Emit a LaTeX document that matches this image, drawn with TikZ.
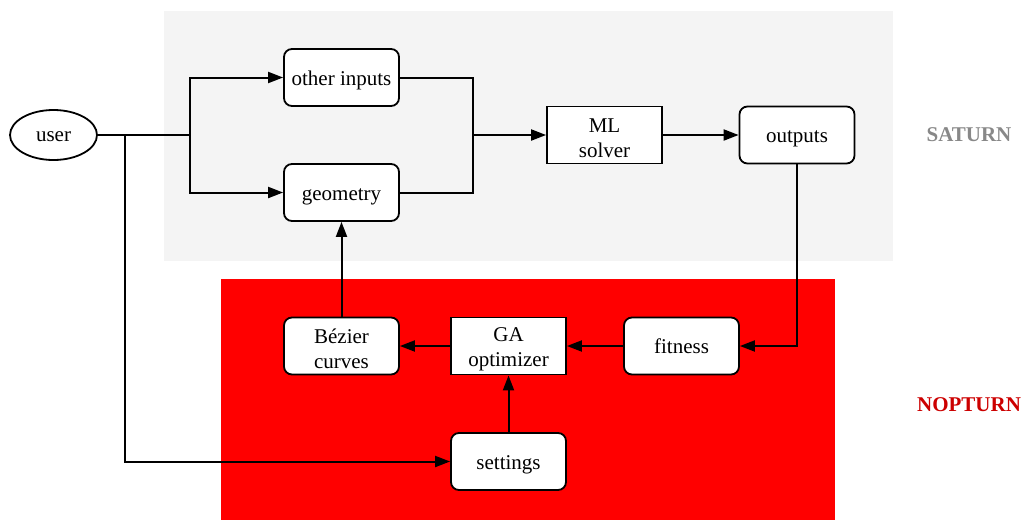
\documentclass[tikz,border=0pt]{standalone}
\usepackage{fontspec}
\setmainfont{Liberation Serif}
\usetikzlibrary{arrows.meta,shapes.geometric}
\definecolor{panelgray}{HTML}{F4F4F4}
\definecolor{labelgray}{HTML}{888888}
\definecolor{labelred}{HTML}{CC0000}
\begin{document}
\begin{tikzpicture}[x=1pt,y=-1pt,
  every node/.style={font=\fontsize{21}{25}\selectfont},
  onel/.style={text height=15pt, text depth=0pt},
  rbox/.style={draw, line width=1.8pt, fill=white, rounded corners=8pt,
    minimum width=115pt, minimum height=57pt, inner sep=0pt, align=center},
  sbox/.style={draw, line width=1.8pt, fill=white,
    minimum width=115pt, minimum height=57pt, inner sep=0pt, align=center},
  link/.style={line width=2pt, -{Triangle[length=15pt,width=11pt]}},
  plain/.style={line width=2pt},
  tag/.style={font=\fontsize{21}{25}\selectfont\bfseries}]
\useasboundingbox (0,0) rectangle (1022,520);
% cluster backgrounds
\fill[panelgray] (164,11) rectangle (893,261);
\fill[red] (221,279) rectangle (835,520);
% nodes
\node[ellipse, draw, line width=1.8pt, fill=white, minimum width=87pt, minimum height=50pt, inner sep=0pt, text height=13pt, text depth=0pt] (user) at (53.5,135) {user};
\node[rbox, onel] (oi) at (341.5,77.5) {other inputs};
\node[rbox, onel] (geo) at (341.5,192.5) {geometry};
\node[sbox] (ml) at (604.5,135) {\rule{0pt}{20pt}ML\\solver};
\node[rbox, onel] (out) at (797,135) {outputs};
\node[rbox] (bez) at (341.5,346) {\rule{0pt}{20pt}Bézier\\curves};
\node[sbox] (ga) at (508.5,346) {\rule{0pt}{20pt}GA\\optimizer};
\node[rbox, onel] (fit) at (681.5,346) {fitness};
\node[rbox, onel] (set) at (508.5,461.5) {settings};
% junctions
\coordinate (jin) at (190,135);
\coordinate (jml) at (473,135);
\coordinate (jset) at (125,135);
% connectors
\draw[link] (user.east) -- (jin) |- (oi.west);
\draw[link] (user.east) -- (jin) |- (geo.west);
\draw[plain] (oi.east) -| (jml);
\draw[link] (geo.east) -| (jml) -- (ml.west);
\draw[link] (ml.east) -- (out.west);
\draw[link] (out.south) |- (fit.east);
\draw[link] (fit.west) -- (ga.east);
\draw[link] (ga.west) -- (bez.east);
\draw[link] (bez.north) -- (geo.south);
\draw[link] (set.north) -- (ga.south);
\draw[link] (user.east) -- (jset) |- (set.west);
% cluster labels
\node[tag, text=labelgray] (saturn) at (969,135) {SATURN};
\node[tag, text=labelred] (nopturn) at (969,405) {NOPTURN};
\end{tikzpicture}
\end{document}
